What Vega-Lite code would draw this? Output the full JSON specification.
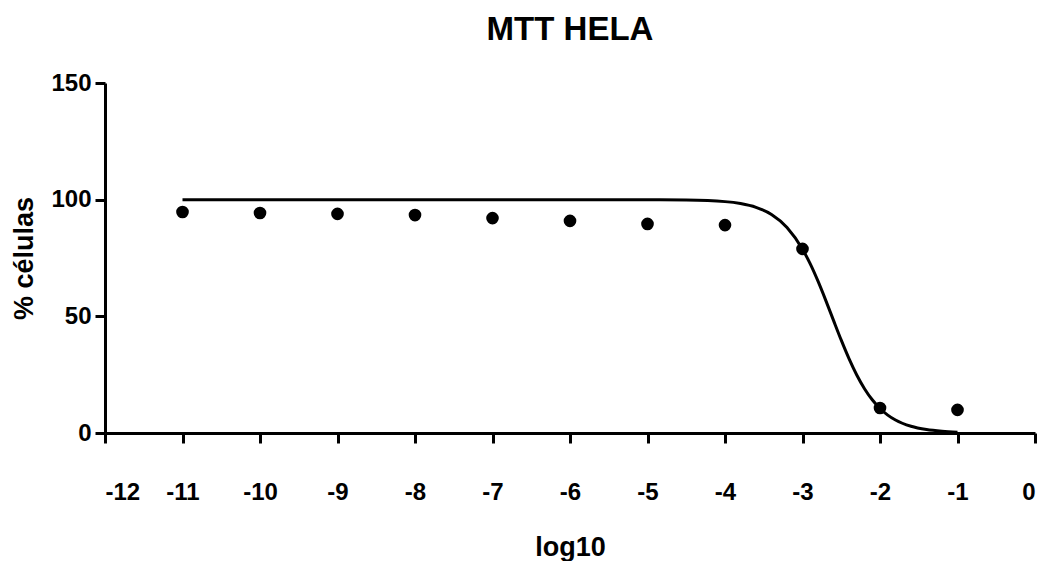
{
  "$schema": "https://vega.github.io/schema/vega-lite/v6.json",
  "width": 930,
  "height": 350,
  "autosize": {"type": "none"},
  "padding": {"left": 105, "top": 83, "right": 14, "bottom": 128},
  "background": "white",
  "config": {
    "view": {"stroke": null},
    "font": "Liberation Sans",
    "axis": {
      "domainColor": "black", "domainWidth": 3, "tickColor": "black", "tickWidth": 3, "tickSize": 10,
      "labelFont": "Liberation Sans", "labelFontWeight": "bold", "labelFontSize": 24, "labelColor": "black",
      "titleFont": "Liberation Sans", "titleFontWeight": "bold", "titleFontSize": 27, "titleColor": "black",
      "grid": false, "labelOverlap": false
    }
  },
  "title": {"text": "MTT HELA", "font": "Liberation Sans", "fontSize": 33, "fontWeight": "bold", "color": "black", "anchor": "middle", "offset": 24},
  "datasets": {
    "points": [
      {"x": -11, "y": 94.7}, {"x": -10, "y": 94.3}, {"x": -9, "y": 93.9}, {"x": -8, "y": 93.4},
      {"x": -7, "y": 92.1}, {"x": -6, "y": 90.9}, {"x": -5, "y": 89.6}, {"x": -4, "y": 89.1},
      {"x": -3, "y": 78.9}, {"x": -2, "y": 10.7}, {"x": -1, "y": 9.9}
    ],
    "curve": [
      {"x": -11, "y": 100}, {"x": -9, "y": 100}, {"x": -7, "y": 100}, {"x": -6, "y": 99.99},
      {"x": -5, "y": 99.97}, {"x": -4.5, "y": 99.85}, {"x": -4, "y": 99.16}, {"x": -3.8, "y": 98.33},
      {"x": -3.6, "y": 96.72}, {"x": -3.4, "y": 93.67}, {"x": -3.2, "y": 88.11}, {"x": -3.0, "y": 78.79},
      {"x": -2.9, "y": 72.46}, {"x": -2.8, "y": 65.06}, {"x": -2.7, "y": 56.86}, {"x": -2.6, "y": 48.26},
      {"x": -2.5, "y": 39.78}, {"x": -2.4, "y": 31.87}, {"x": -2.3, "y": 24.88}, {"x": -2.2, "y": 18.99},
      {"x": -2.1, "y": 14.23}, {"x": -2.0, "y": 10.51}, {"x": -1.9, "y": 7.68}, {"x": -1.8, "y": 5.56},
      {"x": -1.6, "y": 2.87}, {"x": -1.4, "y": 1.46}, {"x": -1.2, "y": 0.74}, {"x": -1.0, "y": 0.37}
    ]
  },
  "layer": [
    {
      "data": {"name": "curve"},
      "mark": {"type": "line", "color": "black", "strokeWidth": 3, "interpolate": "monotone"},
      "encoding": {
        "x": {"field": "x", "type": "quantitative", "scale": {"domain": [-12, 0], "nice": false},
          "axis": {"title": "log10", "values": [-12,-11,-10,-9,-8,-7,-6,-5,-4,-3,-2,-1,0],
            "labelExpr": "datum.value < 0 ? '-' + format(-datum.value, 'd') : '0'",
            "labelPadding": 37, "titlePadding": 30}},
        "y": {"field": "y", "type": "quantitative", "scale": {"domain": [0, 150], "nice": false},
          "axis": {"title": "% células", "values": [0, 50, 100, 150], "labelPadding": 4, "titlePadding": 12}}
      }
    },
    {
      "data": {"name": "points"},
      "mark": {"type": "point", "filled": true, "color": "black", "opacity": 1, "size": 160},
      "encoding": {
        "x": {"field": "x", "type": "quantitative"},
        "y": {"field": "y", "type": "quantitative"}
      }
    }
  ]
}
